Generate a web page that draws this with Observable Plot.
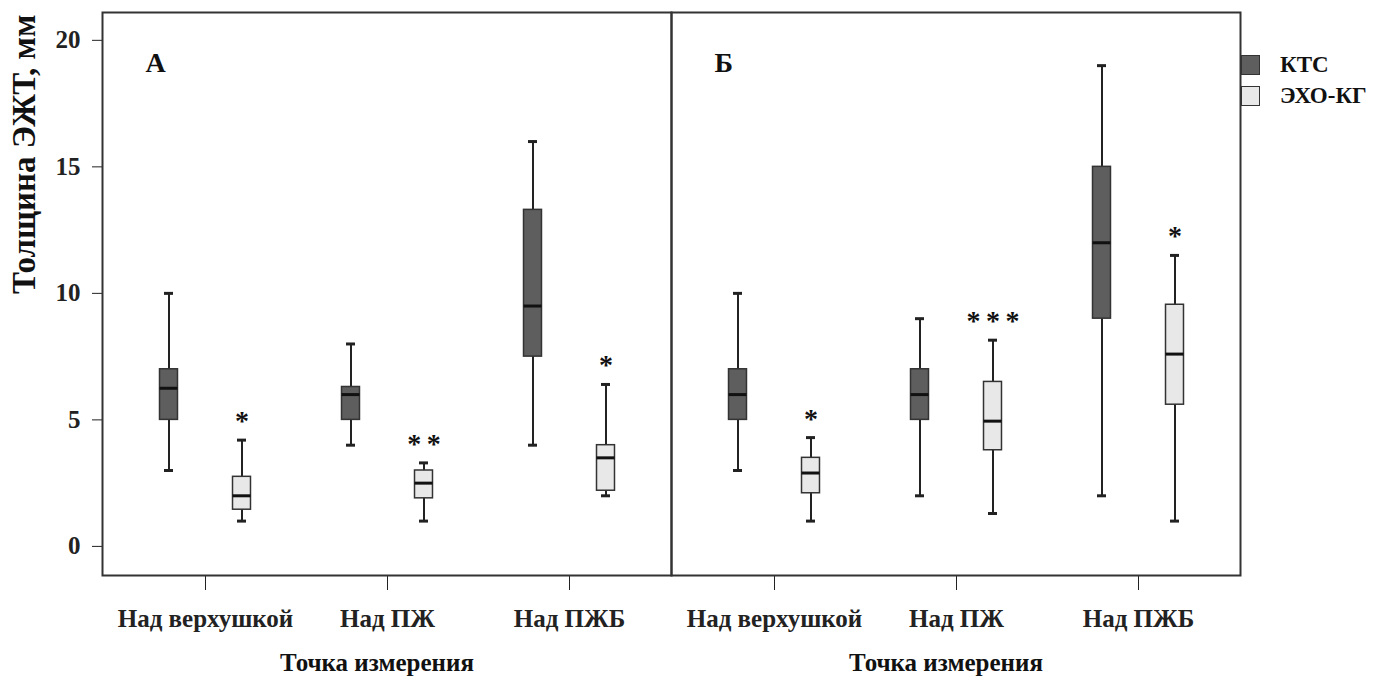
<!DOCTYPE html>
<html>
<head>
<meta charset="utf-8">
<script src="https://cdn.jsdelivr.net/npm/d3@7"></script>
<script src="https://cdn.jsdelivr.net/npm/@observablehq/plot@0.6"></script>
<style>
  html, body { margin: 0; padding: 0; background: #fff; }
  #wrap { position: relative; width: 1389px; height: 684px; }
  #legend { position: absolute; left: 1241px; top: 52px; font-family: "Liberation Serif", "Times New Roman", serif; font-weight: bold; font-size: 23px; color: #111; }
  #legend .item { display: flex; align-items: center; height: 26px; margin-bottom: 5px; }
  #legend .sw { width: 17px; height: 18px; border: 1.5px solid #333; margin-right: 20px; box-sizing: content-box; }
</style>
</head>
<body>
<div id="wrap"><div id="chart"></div><div id="legend"></div></div>
<script>
const panels = ["А", "Б"];
const categories = ["Над верхушкой", "Над ПЖ", "Над ПЖБ"];
const groups = ["КТС", "ЭХО-КГ"];
const groupColors = ["#5e5e5e", "#e8e8e8"];
const yTicks = [0, 5, 10, 15, 20];

// Panel А — КТС
const aKtsMin = [3, 4, 4];
const aKtsQ1 = [5, 5, 7.5];
const aKtsMedian = [6.25, 6, 9.5];
const aKtsQ3 = [7, 6.3, 13.3];
const aKtsMax = [10, 8, 16];
// Panel А — ЭХО-КГ
const aEchoMin = [1, 1, 2];
const aEchoQ1 = [1.45, 1.9, 2.2];
const aEchoMedian = [2, 2.5, 3.5];
const aEchoQ3 = [2.75, 3, 4];
const aEchoMax = [4.2, 3.3, 6.4];
// Panel Б — КТС
const bKtsMin = [3, 2, 2];
const bKtsQ1 = [5, 5, 9];
const bKtsMedian = [6, 6, 12];
const bKtsQ3 = [7, 7, 15];
const bKtsMax = [10, 9, 19];
// Panel Б — ЭХО-КГ
const bEchoMin = [1, 1.3, 1];
const bEchoQ1 = [2.1, 3.8, 5.6];
const bEchoMedian = [2.9, 4.95, 7.6];
const bEchoQ3 = [3.5, 6.5, 9.55];
const bEchoMax = [4.3, 8.15, 11.5];
// significance marks (over ЭХО-КГ boxes)
const aStars = ["*", "**", "*"];
const bStars = ["*", "***", "*"];

const series = [
  {panel: "А", group: "КТС", min: aKtsMin, q1: aKtsQ1, median: aKtsMedian, q3: aKtsQ3, max: aKtsMax},
  {panel: "А", group: "ЭХО-КГ", min: aEchoMin, q1: aEchoQ1, median: aEchoMedian, q3: aEchoQ3, max: aEchoMax, stars: aStars},
  {panel: "Б", group: "КТС", min: bKtsMin, q1: bKtsQ1, median: bKtsMedian, q3: bKtsQ3, max: bKtsMax},
  {panel: "Б", group: "ЭХО-КГ", min: bEchoMin, q1: bEchoQ1, median: bEchoMedian, q3: bEchoQ3, max: bEchoMax, stars: bStars}
];
const rows = series.flatMap(s => categories.map((c, i) => ({
  panel: s.panel, group: s.group, category: c,
  min: s.min[i], q1: s.q1[i], median: s.median[i], q3: s.q3[i], max: s.max[i],
  star: s.stars ? s.stars[i] : null
})));

const W = 1389, H = 684, mL = 102, mR = 149, mT = 12, mB = 109;
const padOuter = 0.063;
const facetW = (W - mL - mR) / 2;
const bandW = facetW / (categories.length + 2 * padOuter);
const boxW = 18, capW = 9, offset = 36.5;
const boxInset = (bandW - boxW) / 2;
const capInset = (bandW - capW) / 2;
const font = "'Liberation Serif', 'Times New Roman', serif";

const marks = [Plot.frame({stroke: "#333", strokeWidth: 2})];
groups.forEach((g, gi) => {
  const data = rows.filter(d => d.group === g);
  const dx = gi === 0 ? -offset : offset;
  marks.push(
    Plot.ruleX(data, {fx: "panel", x: "category", y1: "min", y2: "max", dx, stroke: "#222", strokeWidth: 2}),
    Plot.tickY(data, {fx: "panel", x: "category", y: "min", dx, insetLeft: capInset, insetRight: capInset, stroke: "#222", strokeWidth: 3}),
    Plot.tickY(data, {fx: "panel", x: "category", y: "max", dx, insetLeft: capInset, insetRight: capInset, stroke: "#222", strokeWidth: 3}),
    Plot.barY(data, {fx: "panel", x: "category", y1: "q1", y2: "q3", dx, insetLeft: boxInset, insetRight: boxInset, fill: groupColors[gi], stroke: "#333", strokeWidth: 1.5}),
    Plot.tickY(data, {fx: "panel", x: "category", y: "median", dx, insetLeft: boxInset, insetRight: boxInset, stroke: "#111", strokeWidth: 3})
  );
  const starData = data.filter(d => d.star);
  if (starData.length) {
    marks.push(Plot.text(starData, {fx: "panel", x: "category", y: "max", dx, dy: -19,
      text: d => d.star.split("").join("\u2009"), fontSize: 28, fontWeight: "bold", fill: "#111", lineAnchor: "middle"}));
  }
});
marks.push(
  Plot.text(panels, {fx: d => d, text: d => d, frameAnchor: "top-left", dx: 43, dy: 51, fontSize: 28, fontWeight: "bold", textAnchor: "start", lineAnchor: "middle", fill: "#111"}),
  Plot.text(panels, {fx: d => d, text: () => "Точка измерения", frameAnchor: "bottom", dx: -10, dy: 95, fontSize: 25, fontWeight: "bold", fill: "#111"}),
  Plot.text([panels[0]], {fx: d => d, text: () => "Толщина ЭЖТ, мм", frameAnchor: "left", dx: -78, rotate: -90, fontSize: 33, fontWeight: "bold", fill: "#111"})
);

const chart = Plot.plot({
  width: W, height: H,
  marginLeft: mL, marginRight: mR, marginTop: mT, marginBottom: mB,
  style: {fontFamily: font, fontSize: "25px", fontWeight: "bold", color: "#222", background: "#fff"},
  fx: {domain: panels, padding: 0, axis: null, label: null},
  x: {domain: categories, paddingOuter: padOuter, paddingInner: 0, tickSize: 15, tickPadding: 19, label: null},
  y: {domain: [-1.15, 21.1], ticks: yTicks, tickSize: 10, tickPadding: 12, tickFormat: d => String(d), label: null},
  marks
});
document.getElementById("chart").appendChild(chart);

const legend = document.getElementById("legend");
groups.forEach((g, i) => {
  const item = document.createElement("div");
  item.className = "item";
  const sw = document.createElement("div");
  sw.className = "sw";
  sw.style.background = groupColors[i];
  const lab = document.createElement("span");
  lab.textContent = g;
  item.appendChild(sw); item.appendChild(lab);
  legend.appendChild(item);
});
</script>
</body>
</html>
